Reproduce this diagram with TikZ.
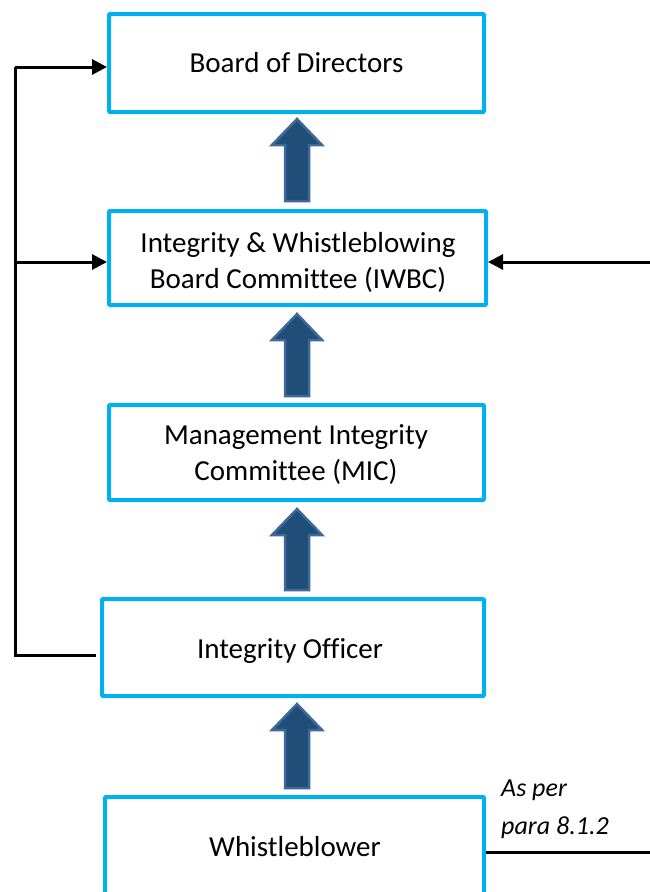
\documentclass[tikz,border=0pt]{standalone}
\usepackage{fontspec}
\setmainfont{Carlito}[Ligatures=NoCommon]
\usetikzlibrary{arrows.meta}
\definecolor{boxblue}{HTML}{00B0F0}
\definecolor{flowfill}{HTML}{1F4E79}
\definecolor{flowedge}{HTML}{41689B}
\tikzset{
  orgbox/.style={draw=boxblue, line width=4pt, rounded corners=1pt, fill=white,
    align=center, font=\fontsize{29}{36}\selectfont, inner sep=0pt},
  link/.style={line width=3pt, line join=miter},
  linkarrow/.style={link, -{Triangle[length=15pt,width=15pt]}},
  note/.style={font=\fontsize{26}{38}\selectfont\itshape, align=left, anchor=north west, inner sep=0pt},
}
% upward block arrow: #1 = centre x, #2 = tip y, #3 = bottom y
\newcommand{\flowup}[3]{%
  \filldraw[fill=flowfill, draw=flowedge, line width=2.5pt, line join=miter]
    (#1,#2) -- (#1+25,#2+26) -- (#1+12,#2+26) -- (#1+12,#3)
    -- (#1-12,#3) -- (#1-12,#2+26) -- (#1-25,#2+26) -- cycle;}
\begin{document}
\begin{tikzpicture}[x=1pt, y=-1pt]
\useasboundingbox (0,0) rectangle (650,892);

% boxes
\node[orgbox, minimum width=375pt, minimum height=98pt] (bod) at (296.5,63) {Board of Directors};
\node[orgbox, minimum width=377pt, minimum height=94pt] (iwbc) at (297.5,258) {};
\node[orgbox, minimum width=375pt, minimum height=95pt] (mic) at (296.5,452.5) {};
\node[orgbox, minimum width=382pt, minimum height=97pt] (io) at (293,647.5) {};
\node[orgbox, minimum width=379pt, minimum height=110pt] (wb) at (294.5,852) {};

% box labels
\node[orgbox, draw=none, fill=none] (iwbctext) at (298,262) {Integrity \& Whistleblowing\\Board Committee (IWBC)};
\node[orgbox, draw=none, fill=none] (mictext) at (296,455) {Management Integrity\\Committee (MIC)};
\node[orgbox, draw=none, fill=none] (iotext) at (290,651) {Integrity Officer};
\node[orgbox, draw=none, fill=none] (wbtext) at (295,847) {Whistleblower};

% upward escalation arrows
\flowup{297}{119}{201}
\flowup{297}{314}{396}
\flowup{297}{509}{590}
\flowup{297}{704}{788}

% side reporting lines
\coordinate (lt) at (15,67);
\coordinate (lm) at (15,262);
\coordinate (lb) at (15,655);
\coordinate (ioin) at (96,655);
\coordinate (rin) at (650,262);
\coordinate (rout) at (650,852);
\coordinate (wbout) at (486,852);
\draw[link] (ioin) -- (lb) -- (lt);
\draw[linkarrow] (lt) -- (bod.west |- lt);
\draw[linkarrow] (lm) -- (iwbc.west |- lm);
\draw[linkarrow] (rin) -- (iwbc.east |- rin);
\draw[link] (wbout) -- (rout);

\node[note] (para) at (501,780) {As per\\para 8.1.2};
\end{tikzpicture}
\end{document}
